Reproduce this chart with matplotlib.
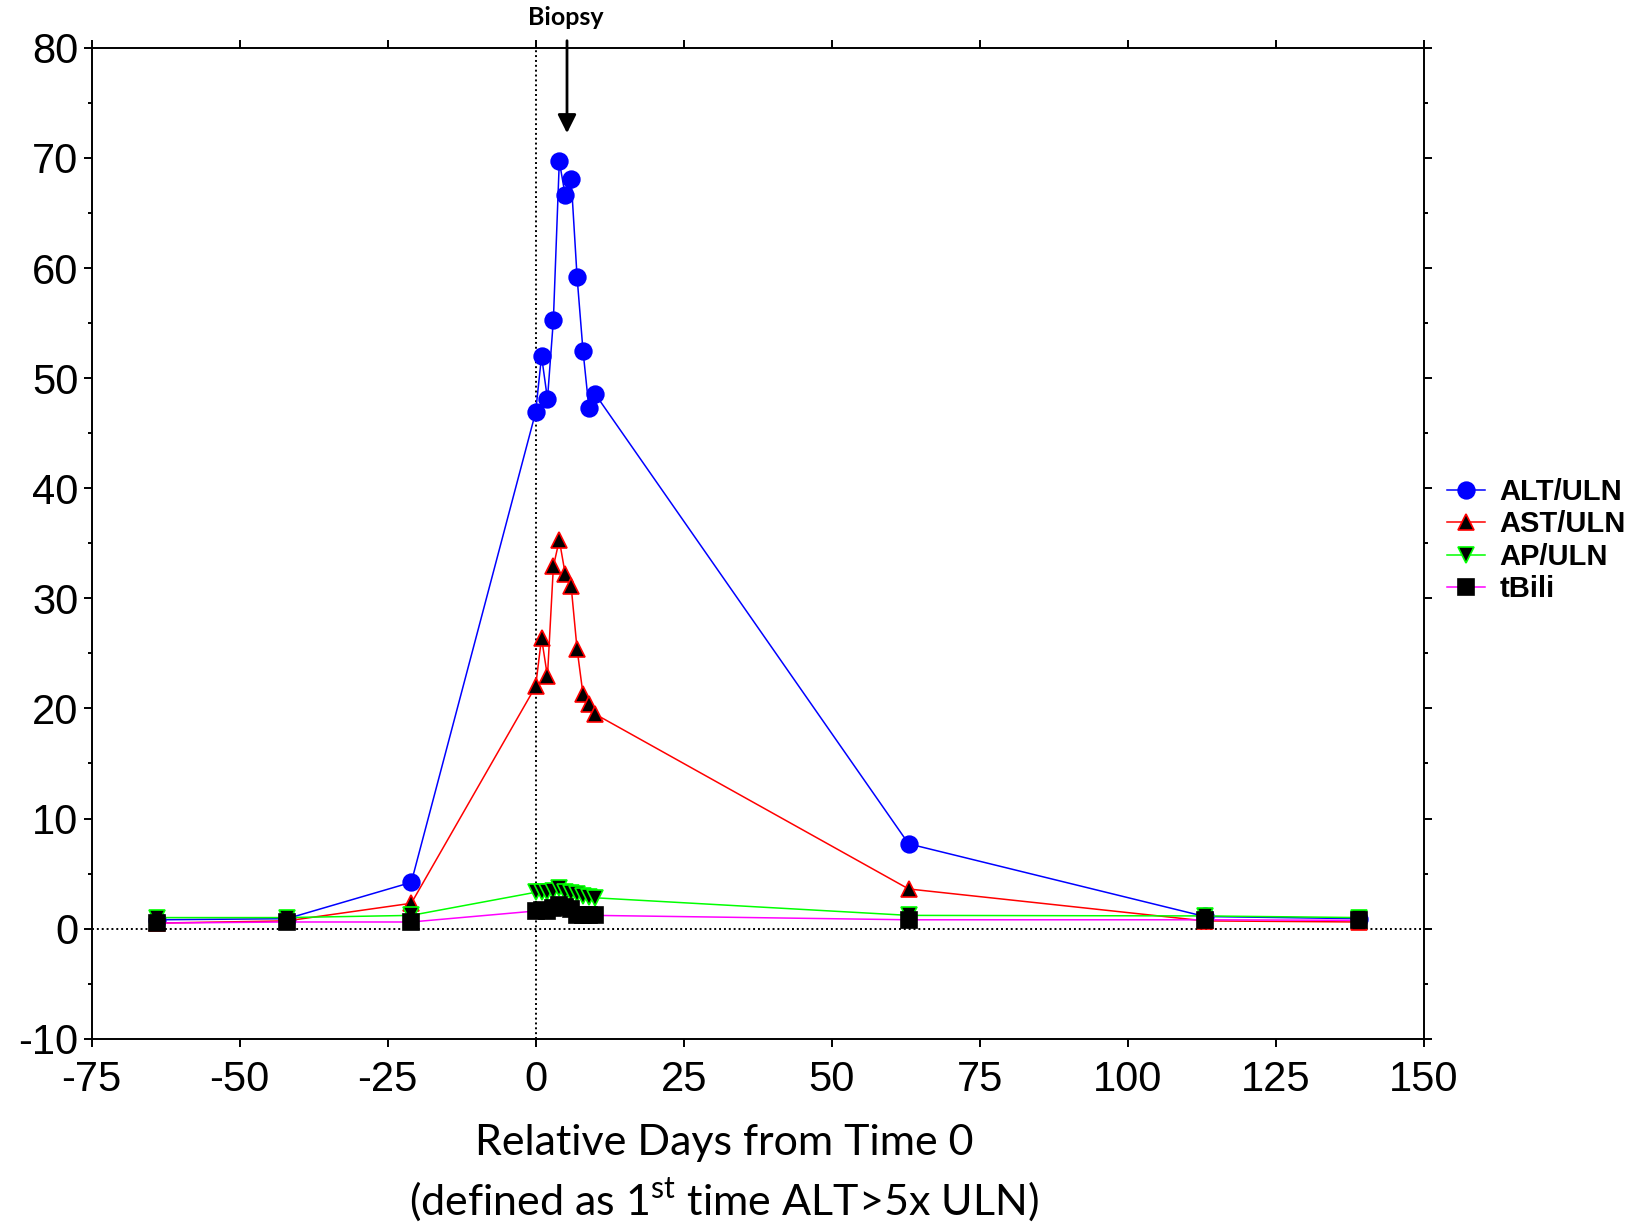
import matplotlib
matplotlib.use("Agg")
import matplotlib.pyplot as plt

# relative days from time 0
DAYS = [-64, -42, -21, 0, 1, 2, 3, 4, 5, 6, 7, 8, 9, 10, 63, 113, 139]

ALT = [0.8, 0.9, 4.2, 46.9, 52.0, 48.1, 55.3, 69.7, 66.6, 68.1, 59.2, 52.5, 47.3, 48.6, 7.7, 1.1, 0.9]
AST = [0.5, 0.7, 2.3, 22.0, 26.4, 22.9, 32.9, 35.3, 32.2, 31.1, 25.4, 21.3, 20.4, 19.5, 3.6, 0.7, 0.6]
AP = [1.0, 1.0, 1.2, 3.3, 3.3, 3.3, 3.4, 3.7, 3.3, 3.2, 3.1, 3.0, 2.9, 2.8, 1.2, 1.15, 1.0]
TBILI = [0.5, 0.6, 0.6, 1.6, 1.7, 1.6, 1.9, 2.1, 2.0, 1.8, 1.2, 1.2, 1.2, 1.2, 0.8, 0.8, 0.75]

SERIES = [
    ("ALT/ULN", ALT, "o", "#0000ff", "#0000ff", "#0000ff"),
    ("AST/ULN", AST, "^", "#ff0000", "black", "#ff0000"),
    ("AP/ULN", AP, "v", "#00ff00", "black", "#00ff00"),
    ("tBili", TBILI, "s", "#ff00ff", "black", "black"),
]

X_TICKS = [-75, -50, -25, 0, 25, 50, 75, 100, 125, 150]
Y_TICKS = [-10, 0, 10, 20, 30, 40, 50, 60, 70, 80]
BIOPSY_DAY = 5.3

plt.rcParams["font.family"] = ["Liberation Sans", "DejaVu Sans"]
plt.rcParams["axes.unicode_minus"] = False
plt.rcParams["mathtext.fontset"] = "custom"
plt.rcParams["mathtext.rm"] = "Lato"

fig = plt.figure(figsize=(16.32, 12.24), dpi=100)
ax = fig.add_axes([0.0561, 0.1514, 0.8724 - 0.0561, 0.9609 - 0.1514])

ax.axhline(0, color="black", linestyle=(0, (1, 1.5)), linewidth=1.4, zorder=1)
ax.axvline(0, color="black", linestyle=(0, (1, 1.5)), linewidth=1.4, zorder=1)

for label, vals, marker, lc, fc, ec in SERIES:
    ax.plot(DAYS, vals, color=lc, linewidth=1.1, marker=marker, markersize=12,
            markerfacecolor=fc, markeredgecolor=ec, markeredgewidth=1.2, label=label, zorder=3)

ax.set_xlim(-75, 150)
ax.set_ylim(-10, 80)
ax.set_xticks(X_TICKS)
ax.set_yticks(Y_TICKS)
ax.set_yticks(list(range(-5, 80, 10)), minor=True)
ax.tick_params(axis="both", which="major", direction="out", length=5.5, width=1.4, labelsize=30)
ax.tick_params(axis="y", which="both", right=True, pad=4)
ax.tick_params(axis="y", which="minor", direction="out", length=2.8, width=1.4)
ax.tick_params(axis="x", which="major", top=True, pad=10)
for spine in ax.spines.values():
    spine.set_linewidth(1.4)

# biopsy marker
ax.annotate("", xy=(BIOPSY_DAY, 72.0), xytext=(BIOPSY_DAY, 80.9),
            arrowprops=dict(arrowstyle="-|>", color="black", lw=2.0, mutation_scale=28),
            annotation_clip=False)
ax.text(BIOPSY_DAY - 0.2, 82.8, "Biopsy", ha="center", va="center", fontsize=18,
        fontweight="bold", family=["Lato", "DejaVu Sans"], clip_on=False)

leg = ax.legend(loc="upper left", bbox_to_anchor=(1447 / 1632, 1 - 478 / 1224),
                bbox_transform=fig.transFigure, frameon=False, borderpad=0, borderaxespad=0,
                handlelength=1.3, handletextpad=0.5, labelspacing=0.15,
                prop={"weight": "bold", "size": 21})

fig.text(0.4437, 1 - 1143 / 1224, "Relative Days from Time 0", ha="center", va="center",
         fontsize=31, family=["Lato", "DejaVu Sans"])
fig.text(0.4437, 1 - 1200 / 1224, "(defined as 1$^{\\mathrm{st}}$ time ALT>5x ULN)",
         ha="center", va="center", fontsize=31, family=["Lato", "DejaVu Sans"])

fig.savefig("out.png", dpi=100)
